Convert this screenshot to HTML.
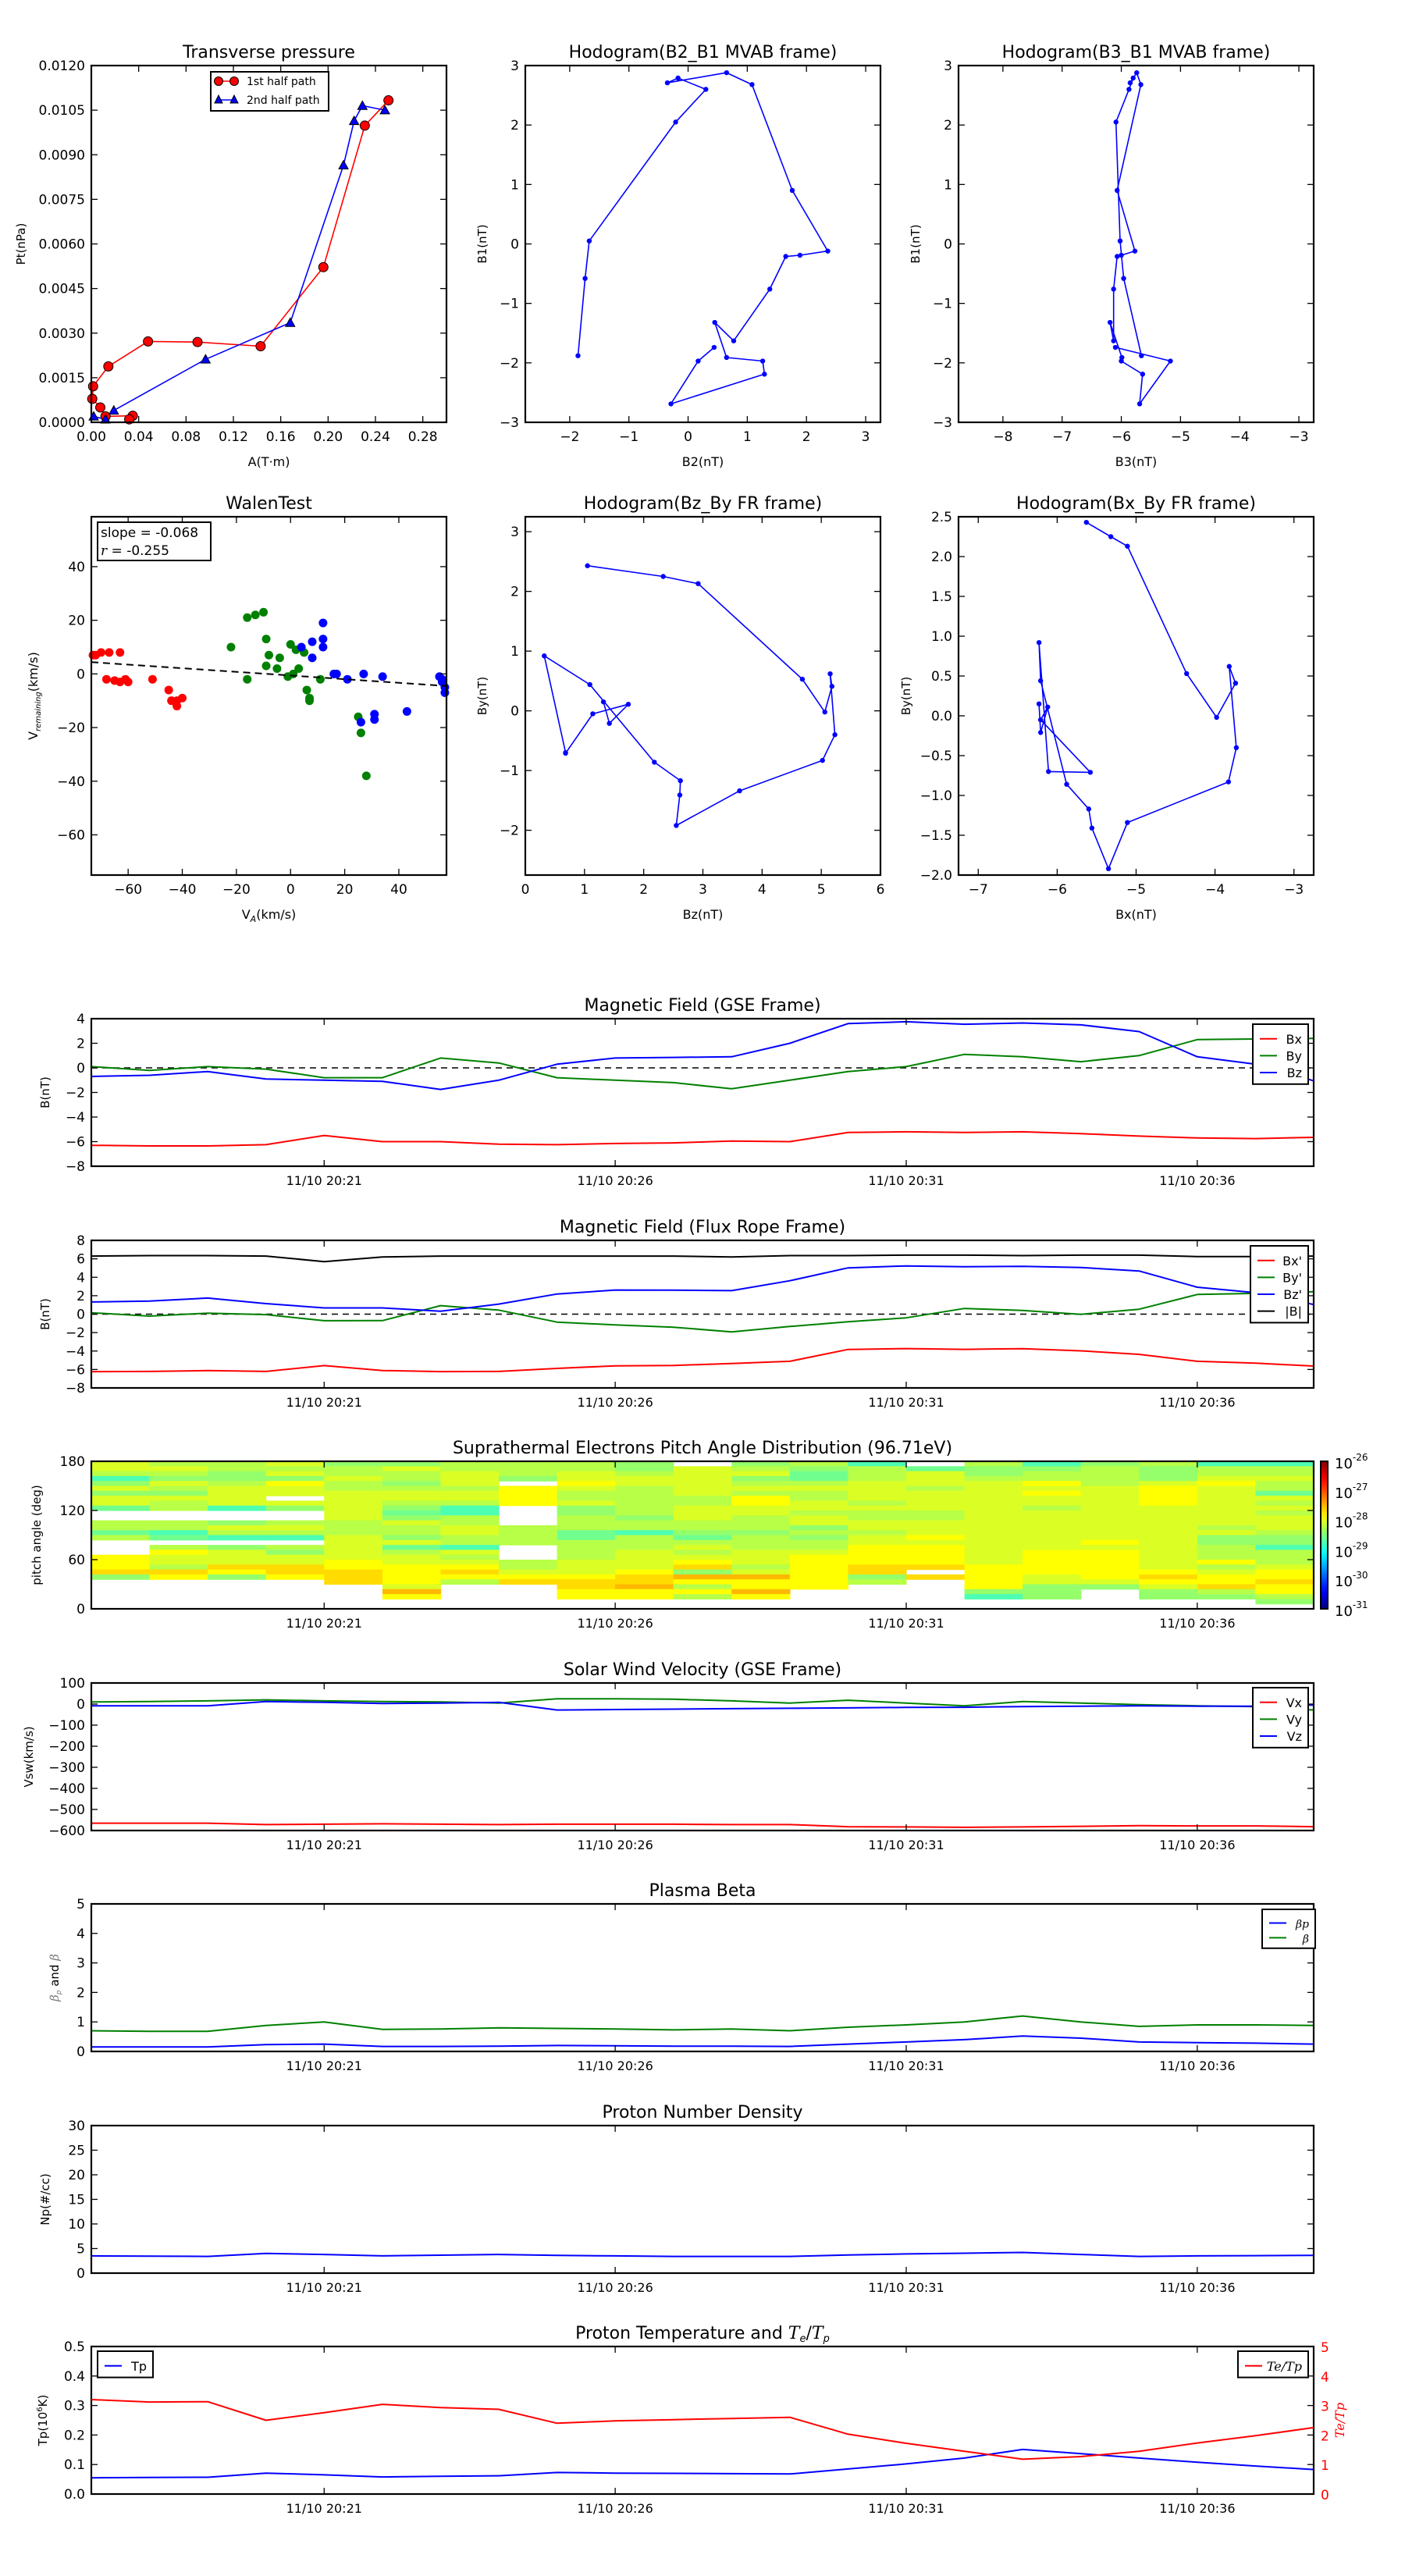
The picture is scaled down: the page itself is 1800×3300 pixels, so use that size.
<!DOCTYPE html>
<html><head><meta charset="utf-8">
<style>
html,body{margin:0;padding:0;background:#fff;}
svg{display:block;font-family:"DejaVu Sans","Liberation Sans",sans-serif;}
</style></head>
<body>
<svg id="fig" width="1800" height="3300" viewBox="0 0 1800 3300" xmlns="http://www.w3.org/2000/svg"></svg>
<script>
// ---------- DATA ----------
const ptHalf1A = [0.251,0.231,0.196,0.143,0.0897,0.0479,0.0144,0.0015,0.0008,0.0076,0.012,0.035,0.032];
const ptHalf1P = [0.01083,0.00998,0.00522,0.00256,0.0027,0.00272,0.00188,0.00121,0.00079,0.0005,0.0002,0.00022,0.0001];
const ptHalf2A = [0.248,0.229,0.222,0.213,0.168,0.0965,0.019,0.012,0.002];
const ptHalf2P = [0.0105,0.01065,0.01014,0.00865,0.00335,0.00212,0.0004,0.0001,0.0002];

const mvB2 = [-1.86,-1.74,-1.67,-0.21,0.30,-0.17,-0.35,0.65,1.08,1.76,2.36,1.89,1.65,1.38,0.77,0.45,0.65,1.26,1.29,-0.29,0.17,0.44];
const mvB1 = [-1.88,-0.58,0.05,2.05,2.60,2.79,2.71,2.88,2.68,0.90,-0.12,-0.19,-0.21,-0.76,-1.63,-1.32,-1.91,-1.97,-2.19,-2.69,-1.97,-1.74];
const mvB3 = [-5.66,-5.96,-6.02,-6.09,-5.87,-5.80,-5.85,-5.74,-5.67,-6.07,-5.77,-6.0,-6.07,-6.13,-6.13,-6.19,-5.99,-6.0,-5.64,-5.69,-5.17,-6.10];

const walenRedX = [-72,-70,-67,-63,-68,-65,-63,-60,-61,-51,-45,-44,-42,-42,-40,-73];
const walenRedY = [7,8,8,8,-2,-2.5,-3,-3,-2,-2,-6,-10,-12,-10,-9,7];
const walenGreenX = [-22,-16,-13,-10,-9,-8,-9,-16,-4,-5,0,-1,1,2,3,5,6,7,7,11,25,26,28];
const walenGreenY = [10,21,22,23,13,7,3,-2,6,2,11,-1,0,9,2,8,-6,-10,-9,-2,-16,-22,-38];
const walenBlueX = [4,8,12,12,12,8,16,17,21,27,34,43,31,31,26,55,56,57,57,56];
const walenBlueY = [10,12,19,13,10,6,0,0,-2,0,-1,-14,-15,-17,-18,-1,-2,-5,-7,-3];
const walenSlope = [-0.068];
const walenIntercept = [-0.6];

const bxGSE = [-6.3,-6.35,-6.35,-6.25,-5.5,-6.0,-6.0,-6.2,-6.25,-6.15,-6.1,-5.95,-6.0,-5.25,-5.2,-5.25,-5.2,-5.35,-5.55,-5.7,-5.75,-5.65];
const byGSE = [0.1,-0.2,0.1,-0.1,-0.8,-0.8,0.8,0.4,-0.8,-1.0,-1.2,-1.7,-1.0,-0.3,0.1,1.1,0.9,0.5,1.0,2.3,2.35,2.4];
const bzGSE = [-0.7,-0.6,-0.3,-0.9,-1.0,-1.1,-1.75,-1.0,0.3,0.8,0.85,0.9,2.0,3.6,3.75,3.55,3.65,3.5,2.95,0.9,0.3,-1.05];

const bxFR = [-6.23,-6.21,-6.12,-6.21,-5.58,-6.11,-6.23,-6.21,-5.88,-5.60,-5.56,-5.35,-5.11,-3.83,-3.73,-3.82,-3.74,-3.98,-4.36,-5.11,-5.32,-5.63];
const byFR = [0.15,-0.21,0.11,-0.05,-0.71,-0.70,0.92,0.44,-0.86,-1.17,-1.41,-1.92,-1.34,-0.83,-0.40,0.62,0.41,-0.02,0.53,2.13,2.25,2.43];
const bzFR = [1.32,1.42,1.74,1.14,0.68,0.68,0.32,1.09,2.18,2.62,2.61,2.55,3.62,5.02,5.23,5.15,5.18,5.06,4.68,2.92,2.33,1.05];
const btFR = [6.3,6.35,6.35,6.3,5.7,6.2,6.3,6.3,6.3,6.3,6.3,6.2,6.35,6.35,6.4,6.4,6.35,6.4,6.4,6.25,6.25,6.3];

// pitch angle columns: string top bin (174-180) -> bottom bin (0-6); digit d => log10 = -28.75 + 0.175*d ; '.' = no data
const padCols = [
"4430242441..3313...55562......",
"3432432433..3301.3544365......",
"3322344440..2430.2444652......",
"4342544.42..3430.3244665......",
"2334334444443334444455666.....",
"2433234432124332413445555475..",
"3344434430033443304345653.....",
"3332.5555....3333...33456.....",
"3344543342233311333344456655..",
"2234433333323303334444566755..",
".444444334443321343456275353..",
"2342343554433323334443475575..",
"32113433443442323345555555....",
"0333444434334434455556623.....",
".144434444334445455556 6......",
"3223444444444444444445555520..",
"0233545443444444445555544222..",
"23333444444444445455555542....",
"3222455554444444444444565422..",
"0334544444444342233353455632..",
"03343314343444322033345565532."
];

const vxSW = [-565,-565,-565,-572,-570,-568,-570,-572,-570,-570,-570,-572,-572,-582,-583,-585,-583,-580,-577,-578,-578,-582];
const vySW = [10,12,15,20,15,12,10,5,25,25,23,15,5,18,5,-8,12,5,-3,-8,-12,-28];
const vzSW = [-8,-8,-8,12,8,3,5,8,-28,-26,-24,-22,-20,-18,-16,-15,-12,-10,-8,-10,-10,-5];

const betaP = [0.15,0.15,0.15,0.23,0.25,0.17,0.17,0.18,0.2,0.19,0.18,0.18,0.17,0.25,0.32,0.4,0.52,0.45,0.32,0.3,0.28,0.25];
const betaT = [0.7,0.68,0.68,0.88,1.0,0.75,0.76,0.8,0.78,0.76,0.73,0.76,0.7,0.82,0.9,1.0,1.2,1.0,0.85,0.9,0.9,0.88];

const npDen = [3.5,3.45,3.4,4.0,3.8,3.5,3.65,3.8,3.6,3.5,3.4,3.4,3.4,3.7,3.9,4.05,4.2,3.8,3.4,3.5,3.55,3.6];

const tpTemp = [0.055,0.056,0.057,0.071,0.065,0.058,0.06,0.062,0.073,0.071,0.07,0.069,0.068,0.085,0.102,0.122,0.151,0.137,0.122,0.108,0.095,0.083];
const teTp = [3.2,3.12,3.13,2.5,2.76,3.04,2.93,2.87,2.4,2.48,2.52,2.56,2.6,2.03,1.72,1.45,1.18,1.27,1.45,1.73,1.98,2.25];

const timeTickIdx = [4,9,14,19];
const timeTickLabels = ["11/10 20:21","11/10 20:26","11/10 20:31","11/10 20:36"];

// ---------- HELPERS ----------
const NS="http://www.w3.org/2000/svg";
const svg=document.getElementById('fig');
function mk(tag,attrs,parent,txt){const e=document.createElementNS(NS,tag);for(const k in attrs)e.setAttribute(k,attrs[k]);if(txt!==undefined)e.textContent=txt;(parent||svg).appendChild(e);return e;}
function fmtNum(v,d){let s=v.toFixed(d);if(Math.abs(v)<1e-9)s=(0).toFixed(d);return s.replace('-','\u2212');}
function axes(name,x0,y0,w,h,xmin,xmax,ymin,ymax){
  const g=mk('g',{});
  
  
  const ax={g,x0,y0,w,h,sx:v=>x0+(v-xmin)/(xmax-xmin)*w,sy:v=>y0+h-(v-ymin)/(ymax-ymin)*h};
  return ax;
}
function frame(ax){
  const r=mk('rect',{x:ax.x0,y:ax.y0,width:ax.w,height:ax.h,fill:'none',stroke:'#000','stroke-width':2.2},ax.g);
  
  
}
function xticks(ax,vals,labels,opt){
  opt=opt||{};
  const g=mk('g',{},ax.g);
  
  
  vals.forEach((v,i)=>{const x=ax.sx(v);
    mk('line',{x1:x,x2:x,y1:ax.y0+ax.h,y2:ax.y0+ax.h-8,stroke:'#000','stroke-width':1.3},g);
    mk('line',{x1:x,x2:x,y1:ax.y0,y2:ax.y0+8,stroke:'#000','stroke-width':1.3},g);
    if(labels){const t=mk('text',{x:x,y:ax.y0+ax.h+(opt.dy||24),'text-anchor':'middle','font-size':opt.fs||17},g,labels[i]);
      
      }
  });
}
function yticks(ax,vals,labels,opt){
  opt=opt||{};
  const g=mk('g',{},ax.g);
  
  
  vals.forEach((v,i)=>{const y=ax.sy(v);
    mk('line',{x1:ax.x0,x2:ax.x0+8,y1:y,y2:y,stroke:'#000','stroke-width':1.3},g);
    mk('line',{x1:ax.x0+ax.w,x2:ax.x0+ax.w-8,y1:y,y2:y,stroke:'#000','stroke-width':1.3},g);
    if(labels){const t=mk('text',{x:ax.x0-8,y:y+6,'text-anchor':'end','font-size':opt.fs||17},g,labels[i]);
      
      }
  });
}
function title(ax,txt,name){const t=mk('text',{x:ax.x0+ax.w/2,y:ax.y0-10,'text-anchor':'middle','font-size':22},ax.g,txt);
  
  return t;}
function ylabel(ax,txt,x,fs,color){const cy=ax.y0+ax.h/2;const t=mk('text',{x:x,y:cy,'text-anchor':'middle','font-size':fs||16,transform:`rotate(-90 ${x} ${cy})`,fill:color||'#000'},ax.g,txt);
  
  return t;}
function xlabel(ax,txt,dy){const t=mk('text',{x:ax.x0+ax.w/2,y:ax.y0+ax.h+(dy||56),'text-anchor':'middle','font-size':16},ax.g,txt);
  
  return t;}
function clipFor(ax,id){const cp=mk('clipPath',{id:id},ax.g);mk('rect',{x:ax.x0,y:ax.y0,width:ax.w,height:ax.h},cp);return `url(#${id})`;}
function line(ax,xs,ys,color,name,clip,lw){
  const pts=xs.map((x,i)=>ax.sx(x).toFixed(1)+','+ax.sy(ys[i]).toFixed(1)).join(' ');
  const p=mk('polyline',{points:pts,fill:'none',stroke:color,'stroke-width':lw||2,'stroke-linejoin':'round','clip-path':clip||''},ax.g);
  
  return p;
}
function dots(ax,xs,ys,color,r,name,stroke){
  const g=mk('g',{},ax.g);
  
  
  xs.forEach((x,i)=>{const c=mk('circle',{cx:ax.sx(x),cy:ax.sy(ys[i]),r:r,fill:color,stroke:stroke||'none','stroke-width':1},g);
    
    });
}
function tris(ax,xs,ys,color,s,name){
  const g=mk('g',{},ax.g);
  
  
  xs.forEach((x,i)=>{const cx=ax.sx(x),cy=ax.sy(ys[i]);
    const p=mk('polygon',{points:`${cx},${cy-s} ${cx-s},${cy+s*0.8} ${cx+s},${cy+s*0.8}`,fill:color,stroke:'#000','stroke-width':1},g);
    
    });
}
function legend(ax,x,y,w,items,fs){
  const g=mk('g',{},ax.g);
  
  
  const rowH=fs?fs*1.35:23;
  mk('rect',{x:x,y:y,width:w,height:items.length*rowH+12,fill:'#fff',stroke:'#000','stroke-width':2},g);
  items.forEach((it,i)=>{const yy=y+12+rowH*i+rowH/2-4;
    const e=mk('g',{},g);
    
    
    mk('line',{x1:x+9,x2:x+31,y1:yy,y2:yy,stroke:it.c,'stroke-width':2},e);
    const t=mk('text',{x:x+w-8,y:yy+6,'text-anchor':'end','font-size':fs||17,'font-style':it.it?'italic':'normal','font-family':it.it?'"DejaVu Serif",serif':''},e,it.t);
  });
}
function range(a,b,s){const r=[];for(let v=a;v<=b+1e-9;v+=s)r.push(Math.round(v*1e6)/1e6);return r;}

// ---------- ROW 1 ----------
const R1Y=84,R1H=457,R2Y=662,R2H=459;
const COLX=[117,673,1228],COLW=455;

(function(){
  const ax=axes('transverse-pressure-chart',COLX[0],R1Y,COLW,R1H,0,0.30,0,0.012);
  const cl=clipFor(ax,'c-tp');
  line(ax,ptHalf1A,ptHalf1P,'#ff0000','half1-line',cl,1.6);
  line(ax,ptHalf2A,ptHalf2P,'#0000ff','half2-line',cl,1.6);
  dots(ax,ptHalf1A,ptHalf1P,'#ff0000',6,'half1-markers','#000');
  tris(ax,ptHalf2A,ptHalf2P,'#0000ff',6,'half2-markers');
  frame(ax);
  const xv=range(0,0.28,0.04);xticks(ax,xv,xv.map(v=>v.toFixed(2)));
  const yv=range(0,0.012,0.0015);yticks(ax,yv,yv.map(v=>v.toFixed(4)));
  title(ax,'Transverse pressure');xlabel(ax,'A(T\u00b7m)');ylabel(ax,'Pt(nPa)',32,15);
  const g=mk('g',{},ax.g);
  
  
  mk('rect',{x:270,y:92,width:151,height:50,fill:'#fff',stroke:'#000','stroke-width':2},g);
  mk('line',{x1:280,x2:300,y1:104,y2:104,stroke:'#f00','stroke-width':1.6},g);
  mk('circle',{cx:280,cy:104,r:5.5,fill:'#f00',stroke:'#000'},g);mk('circle',{cx:300,cy:104,r:5.5,fill:'#f00',stroke:'#000'},g);
  mk('text',{x:316,y:109,'font-size':14},g,'1st half path');
  mk('line',{x1:280,x2:300,y1:128,y2:128,stroke:'#00f','stroke-width':1.6},g);
  mk('polygon',{points:'280,122 275,132 285,132',fill:'#00f',stroke:'#000'},g);mk('polygon',{points:'300,122 295,132 305,132',fill:'#00f',stroke:'#000'},g);
  mk('text',{x:316,y:133,'font-size':14},g,'2nd half path');
})();

(function(){
  const ax=axes('hodogram-b2-b1',COLX[1],R1Y,COLW,R1H,-2.75,3.25,-3,3);
  line(ax,mvB2,mvB1,'#0000ff','b2-b1-path','',1.6);
  dots(ax,mvB2,mvB1,'#0000ff',3.2,'b2-b1-points');
  frame(ax);
  const xv=range(-2,3,1);xticks(ax,xv,xv.map(v=>fmtNum(v,0)));
  const yv=range(-3,3,1);yticks(ax,yv,yv.map(v=>fmtNum(v,0)));
  title(ax,'Hodogram(B2_B1 MVAB frame)');xlabel(ax,'B2(nT)');ylabel(ax,'B1(nT)',COLX[1]-50,15);
})();
(function(){
  const ax=axes('hodogram-b3-b1',COLX[2],R1Y,COLW,R1H,-8.75,-2.75,-3,3);
  line(ax,mvB3,mvB1,'#0000ff','b3-b1-path','',1.6);
  dots(ax,mvB3,mvB1,'#0000ff',3.2,'b3-b1-points');
  frame(ax);
  const xv=range(-8,-3,1);xticks(ax,xv,xv.map(v=>fmtNum(v,0)));
  const yv=range(-3,3,1);yticks(ax,yv,yv.map(v=>fmtNum(v,0)));
  title(ax,'Hodogram(B3_B1 MVAB frame)');xlabel(ax,'B3(nT)');ylabel(ax,'B1(nT)',COLX[2]-50,15);
})();

// ---------- ROW 2 ----------
(function(){
  const ax=axes('walen-test-chart',COLX[0],R2Y,COLW,R2H,-73.6,57.6,-75,58.6);
  const cl=clipFor(ax,'c-walen');
  dots(ax,walenRedX,walenRedY,'#ff0000',5.5,'walen-red');
  dots(ax,walenGreenX,walenGreenY,'#008000',5.5,'walen-green');
  dots(ax,walenBlueX,walenBlueY,'#0000ff',5.5,'walen-blue');
  const fx=[-73.6,57.6];const fy=fx.map(x=>walenSlope[0]*x+walenIntercept[0]);
  const fl=line(ax,fx,fy,'#000','walen-fit-line',cl,2);fl.setAttribute('stroke-dasharray','9,6');
  frame(ax);
  const xv=range(-60,40,20);xticks(ax,xv,xv.map(v=>fmtNum(v,0)));
  const yv=range(-60,40,20);yticks(ax,yv,yv.map(v=>fmtNum(v,0)));
  title(ax,'WalenTest');
  const xl=mk('text',{x:ax.x0+ax.w/2,y:ax.y0+ax.h+56,'text-anchor':'middle','font-size':16},ax.g);
  
  
  mk('tspan',{},xl,'V');mk('tspan',{'font-size':11,dy:4,'font-style':'italic'},xl,'A');mk('tspan',{dy:-4},xl,'(km/s)');
  const cx=48,cy=ax.y0+ax.h/2;
  const yl=mk('text',{x:cx,y:cy,'text-anchor':'middle','font-size':16,transform:`rotate(-90 ${cx} ${cy})`},ax.g);
  
  
  mk('tspan',{},yl,'V');mk('tspan',{'font-size':10,dy:4,'font-style':'italic'},yl,'remaining');mk('tspan',{dy:-4},yl,'(km/s)');
  const g=mk('g',{},ax.g);
  
  
  mk('rect',{x:125,y:669,width:145,height:49,fill:'#fff',stroke:'#000','stroke-width':2},g);
  mk('text',{x:129,y:688,'font-size':17},g,'slope = -0.068');
  const t2=mk('text',{x:129,y:711,'font-size':17},g);
  mk('tspan',{'font-style':'italic','font-family':'"DejaVu Serif",serif'},t2,'r');mk('tspan',{},t2,' = -0.255');
})();
(function(){
  const ax=axes('hodogram-bz-by-fr',COLX[1],R2Y,COLW,R2H,0,6,-2.75,3.25);
  line(ax,bzFR,byFR,'#0000ff','bz-by-path','',1.6);
  dots(ax,bzFR,byFR,'#0000ff',3.2,'bz-by-points');
  frame(ax);
  const xv=range(0,6,1);xticks(ax,xv,xv.map(v=>fmtNum(v,0)));
  const yv=range(-2,3,1);yticks(ax,yv,yv.map(v=>fmtNum(v,0)));
  title(ax,'Hodogram(Bz_By FR frame)');xlabel(ax,'Bz(nT)');ylabel(ax,'By(nT)',COLX[1]-50,15);
})();
(function(){
  const ax=axes('hodogram-bx-by-fr',COLX[2],R2Y,COLW,R2H,-7.25,-2.75,-2,2.5);
  line(ax,bxFR,byFR,'#0000ff','bx-by-path','',1.6);
  dots(ax,bxFR,byFR,'#0000ff',3.2,'bx-by-points');
  frame(ax);
  const xv=range(-7,-3,1);xticks(ax,xv,xv.map(v=>fmtNum(v,0)));
  const yv=range(-2,2.5,0.5);yticks(ax,yv,yv.map(v=>fmtNum(v,1)));
  title(ax,'Hodogram(Bx_By FR frame)');xlabel(ax,'Bx(nT)');ylabel(ax,'By(nT)',COLX[2]-62,15);
})();

// ---------- TIME SERIES ----------
const TX=117,TW=1566,TH=189;
const TY=[1305,1589,1872,2156,2439,2723,3006];
const tIdx=bxGSE.map((_,i)=>i);
function tsAxes(name,k,ymin,ymax){return axes(name,TX,TY[k],TW,TH,0,21,ymin,ymax);}
function timeTicks(ax){xticks(ax,timeTickIdx,timeTickLabels,{dy:24,fs:16});}
function zeroLine(ax){const l=mk('line',{x1:ax.x0,x2:ax.x0+ax.w,y1:ax.sy(0),y2:ax.sy(0),stroke:'#000','stroke-width':1.4,'stroke-dasharray':'8,6'},ax.g);
  
  }

(function(){
  const ax=tsAxes('magnetic-field-gse',0,-8,4);const cl=clipFor(ax,'c-gse');
  zeroLine(ax);
  line(ax,tIdx,bxGSE,'#ff0000','bx-gse-line',cl);line(ax,tIdx,byGSE,'#008000','by-gse-line',cl);line(ax,tIdx,bzGSE,'#0000ff','bz-gse-line',cl);
  frame(ax);timeTicks(ax);
  const yv=range(-8,4,2);yticks(ax,yv,yv.map(v=>fmtNum(v,0)));
  title(ax,'Magnetic Field (GSE Frame)');ylabel(ax,'B(nT)',63,15);
  legend(ax,1605,1312,71,[{c:'#f00',t:'Bx'},{c:'#008000',t:'By'},{c:'#00f',t:'Bz'}],16);
})();
(function(){
  const ax=tsAxes('magnetic-field-flux-rope',1,-8,8);const cl=clipFor(ax,'c-fr');
  zeroLine(ax);
  line(ax,tIdx,bxFR,'#ff0000','bx-fr-line',cl);line(ax,tIdx,byFR,'#008000','by-fr-line',cl);line(ax,tIdx,bzFR,'#0000ff','bz-fr-line',cl);line(ax,tIdx,btFR,'#000000','bt-fr-line',cl);
  frame(ax);timeTicks(ax);
  const yv=range(-8,8,2);yticks(ax,yv,yv.map(v=>fmtNum(v,0)));
  title(ax,'Magnetic Field (Flux Rope Frame)');ylabel(ax,'B(nT)',63,15);
  legend(ax,1602,1596,74,[{c:'#f00',t:"Bx'"},{c:'#008000',t:"By'"},{c:'#00f',t:"Bz'"},{c:'#000',t:'|B|'}],16);
})();
function jet(f){f=Math.max(0,Math.min(1,f));const cl=v=>Math.max(0,Math.min(1,v));
  const r=cl(1.5-Math.abs(4*f-3)),g=cl(1.5-Math.abs(4*f-2)),b=cl(1.5-Math.abs(4*f-1));
  return `rgb(${Math.round(r*255)},${Math.round(g*255)},${Math.round(b*255)})`;}
(function(){
  const ax=tsAxes('pitch-angle-distribution',2,0,180);
  const g=mk('g',{},ax.g);
  
  
  padCols.forEach((s,ci)=>{
    for(let j=0;j<30;j++){const ch=s[j];if(!ch||ch<'0'||ch>'9')continue;
      const lv=-28.75+0.175*(+ch);const f=(lv+31)/5;
      const bin=29-j;const y1=ax.sy(bin*6+6),y2=ax.sy(bin*6);
      const x1=ax.sx(ci),x2=ax.sx(ci+1);
      const r=mk('rect',{x:x1.toFixed(1),y:y1.toFixed(1),width:(x2-x1+0.6).toFixed(1),height:(y2-y1+0.6).toFixed(1),fill:jet(f)},g);
      
      
    }});
  frame(ax);timeTicks(ax);
  const yv=[0,60,120,180];yticks(ax,yv,yv.map(v=>String(v)));
  title(ax,'Suprathermal Electrons Pitch Angle Distribution (96.71eV)');ylabel(ax,'pitch angle (deg)',52,15);
  const cb=mk('g',{},svg);
  
  
  const defs=mk('defs',{},cb);const lg=mk('linearGradient',{id:'jetg',x1:0,y1:1,x2:0,y2:0},defs);
  for(let i=0;i<=20;i++)mk('stop',{offset:i/20,'stop-color':jet(i/20)},lg);
  mk('rect',{x:1692,y:1872,width:9,height:189,fill:'url(#jetg)',stroke:'#000','stroke-width':2},cb);
  for(let e=-31;e<=-26;e++){const y=1872+189-(e+31)/5*189;
    const t=mk('text',{x:1710,y:y+9,'font-size':18},cb);
    
    
    mk('tspan',{},t,'10');mk('tspan',{dy:-10,'font-size':12},t,String(e));}
})();
(function(){
  const ax=tsAxes('solar-wind-velocity',3,-600,100);const cl=clipFor(ax,'c-v');
  line(ax,tIdx,vxSW,'#ff0000','vx-line',cl);line(ax,tIdx,vySW,'#008000','vy-line',cl);line(ax,tIdx,vzSW,'#0000ff','vz-line',cl);
  frame(ax);timeTicks(ax);
  const yv=range(-600,100,100);yticks(ax,yv,yv.map(v=>fmtNum(v,0)));
  title(ax,'Solar Wind Velocity (GSE Frame)');ylabel(ax,'Vsw(km/s)',42,15);
  legend(ax,1605,2162,71,[{c:'#f00',t:'Vx'},{c:'#008000',t:'Vy'},{c:'#00f',t:'Vz'}],16);
})();
(function(){
  const ax=tsAxes('plasma-beta',4,0,5);const cl=clipFor(ax,'c-b');
  line(ax,tIdx,betaP,'#0000ff','beta-p-line',cl);line(ax,tIdx,betaT,'#008000','beta-line',cl);
  frame(ax);timeTicks(ax);
  const yv=range(0,5,1);yticks(ax,yv,yv.map(v=>String(v)));
  title(ax,'Plasma Beta');
  const cx=75,cy=ax.y0+ax.h/2;const yl=mk('text',{x:cx,y:cy,'text-anchor':'middle','font-size':15,transform:`rotate(-90 ${cx} ${cy})`},ax.g);
  
  
  mk('tspan',{'font-style':'italic','fill':'#777','font-family':'"DejaVu Serif",serif'},yl,'\u03b2');mk('tspan',{'font-size':9,dy:3,'fill':'#777','font-style':'italic'},yl,'p');mk('tspan',{dy:-3},yl,' and ');mk('tspan',{'font-style':'italic','fill':'#777','font-family':'"DejaVu Serif",serif'},yl,'\u03b2');
  legend(ax,1617,2446,68,[{c:'#00f',t:'\u03b2p',it:true},{c:'#008000',t:'\u03b2',it:true}],14);
})();
(function(){
  const ax=tsAxes('proton-number-density',5,0,30);const cl=clipFor(ax,'c-n');
  line(ax,tIdx,npDen,'#0000ff','np-line',cl);
  frame(ax);timeTicks(ax);
  const yv=range(0,30,5);yticks(ax,yv,yv.map(v=>String(v)));
  title(ax,'Proton Number Density');ylabel(ax,'Np(#/cc)',63,15);
})();
(function(){
  const ax=tsAxes('proton-temperature',6,0,0.5);const cl=clipFor(ax,'c-t');
  const ax2=axes('te-tp-axis',TX,TY[6],TW,TH,0,21,0,5);
  line(ax,tIdx,tpTemp,'#0000ff','tp-line',cl);
  line(ax2,tIdx,teTp,'#ff0000','te-tp-line',cl);
  frame(ax);timeTicks(ax);
  const yv=range(0,0.5,0.1);yticks(ax,yv,yv.map(v=>v.toFixed(1)));
  const rg=mk('g',{},svg);
  
  
  range(0,5,1).forEach(v=>{const y=ax2.sy(v);const t=mk('text',{x:1692,y:y+7,'font-size':17,fill:'#f00'},rg,String(v));
    
    });
  const cx=1722,cy=ax.y0+ax.h/2;const yr=mk('text',{x:cx,y:cy,'text-anchor':'middle','font-size':16,fill:'#f00','font-style':'italic','font-family':'"DejaVu Serif",serif',transform:`rotate(-90 ${cx} ${cy})`},rg,'Te/Tp');
  
  
  const tt=mk('text',{x:ax.x0+ax.w/2,y:ax.y0-10,'text-anchor':'middle','font-size':22},ax.g);
  
  
  mk('tspan',{},tt,'Proton Temperature and ');mk('tspan',{'font-style':'italic','font-family':'"DejaVu Serif",serif'},tt,'T');mk('tspan',{'font-size':13,dy:4,'font-style':'italic'},tt,'e');mk('tspan',{dy:-4,'font-family':'"DejaVu Serif",serif'},tt,'/');mk('tspan',{'font-style':'italic','font-family':'"DejaVu Serif",serif'},tt,'T');mk('tspan',{'font-size':13,dy:4,'font-style':'italic'},tt,'p');
  const cx2=60,cy2=ax.y0+ax.h/2;const yl=mk('text',{x:cx2,y:cy2,'text-anchor':'middle','font-size':15,transform:`rotate(-90 ${cx2} ${cy2})`},ax.g);
  
  
  mk('tspan',{},yl,'Tp(10');mk('tspan',{'font-size':10,dy:-6},yl,'6');mk('tspan',{dy:6},yl,'K)');
  legend(ax,125,3012,71,[{c:'#00f',t:'Tp'}],16);
  legend(ax,1586,3012,90,[{c:'#f00',t:'Te/Tp',it:true}],16);
})();
</script>
</body></html>
